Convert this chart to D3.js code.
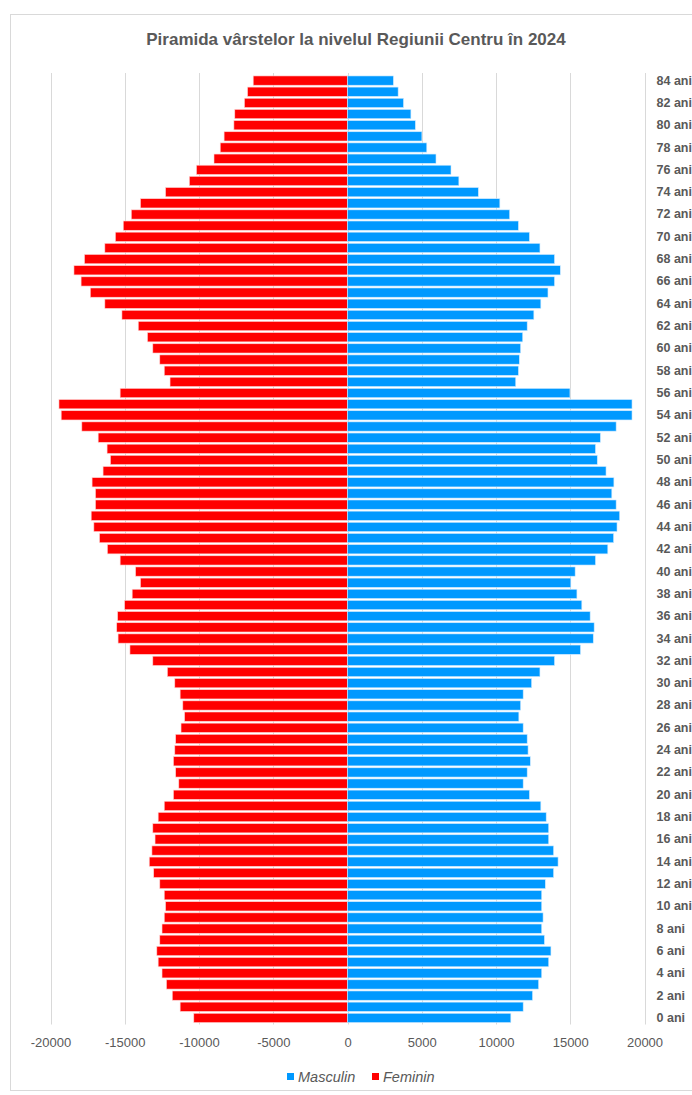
<!DOCTYPE html>
<html><head><meta charset="utf-8">
<script src="https://cdn.jsdelivr.net/npm/d3@7"></script>
<style>body{margin:0;background:#fff}svg{display:block}</style>
</head><body>
<script>
const title = "Piramida vârstelor la nivelul Regiunii Centru în 2024";
const ages = d3.range(0, 85).map(a => a + " ani");
const masculin = [11000,11830,12460,12870,13080,13550,13700,13260,13080,13170,
13080,13080,13320,13880,14180,13880,13550,13550,13380,13020,
12250,11830,12100,12310,12160,12100,11830,11540,11660,11830,
12400,12960,13940,15690,16550,16610,16340,15780,15450,15040,
15330,16700,17530,17920,18150,18330,18090,17800,17940,17410,
16820,16700,17030,18090,19160,19160,14980,11330,11510,11570,
11660,11800,12100,12550,13020,13500,13940,14330,13940,12960,
12250,11510,10920,10260,8810,7500,6970,5960,5340,5010,
4570,4270,3770,3410,3090];
const feminin = [10350,11270,11800,12190,12490,12750,12840,12640,12490,12340,
12250,12340,12640,13050,13350,13170,12960,13110,12750,12340,
11720,11360,11570,11720,11630,11570,11210,10970,11090,11270,
11630,12130,13110,14650,15450,15540,15480,15010,14500,13940,
14270,15310,16170,16700,17080,17260,16970,16970,17200,16460,
15960,16190,16790,17890,19280,19430,15310,11950,12340,12640,
13110,13470,14090,15190,16340,17320,17940,18420,17710,16340,
15630,15100,14560,13940,12250,10650,10170,8990,8570,8310,
7650,7590,6940,6730,6350];
const xTicks = [-20000,-15000,-10000,-5000,0,5000,10000,15000,20000];
const seriesNames = ["Masculin","Feminin"];
const colors = {Masculin:"#0099ff", Feminin:"#ff0000"};

const W = 692, H = 1095;
const svg = d3.select("body").append("svg").attr("width", W).attr("height", H);
svg.append("rect").attr("x",0).attr("y",0).attr("width",W).attr("height",H).attr("fill","#fff");
svg.append("rect").attr("x",10.5).attr("y",14.5).attr("width",700).attr("height",1076)
  .attr("fill","none").attr("stroke","#d9d9d9");

const x = d3.scaleLinear().domain([-20000,20000]).range([50.5,644.5]);
const plotTop = 75, plotBottom = 1023.5;
const y = d3.scaleBand().domain(d3.range(84,-1,-1)).range([plotTop,plotBottom]).paddingInner(0.17).paddingOuter(0.085);

// gridlines
svg.append("g").selectAll("line").data(xTicks).join("line")
  .attr("x1", d => Math.round(x(d))+0.5).attr("x2", d => Math.round(x(d))+0.5)
  .attr("y1", plotTop-2).attr("y2", plotBottom+1)
  .attr("stroke","#d9d9d9").attr("stroke-width",1);

const g = svg.append("g");
g.selectAll("rect.f").data(d3.range(85)).join("rect").attr("class","f")
  .attr("x", i => x(-feminin[i])).attr("width", i => x(0) - x(-feminin[i]))
  .attr("y", i => y(i)).attr("height", y.bandwidth())
  .attr("fill", colors.Feminin).attr("stroke","#ffd0d0").attr("stroke-width",0.6);
g.selectAll("rect.m").data(d3.range(85)).join("rect").attr("class","m")
  .attr("x", x(0)).attr("width", i => x(masculin[i]) - x(0))
  .attr("y", i => y(i)).attr("height", y.bandwidth())
  .attr("fill", colors.Masculin).attr("stroke","#cfeaff").attr("stroke-width",0.6);

// x axis
const xa = svg.append("g").attr("transform",`translate(0,${plotBottom})`)
  .call(d3.axisBottom(x).tickValues(xTicks).tickFormat(d => String(d)).tickSize(0).tickPadding(14));
xa.select(".domain").remove();
xa.selectAll("text").attr("font-family","'Liberation Sans Narrow','Liberation Sans',Arial,sans-serif")
  .attr("font-size",13).attr("fill","#595959");

// y labels right
const ya = svg.append("g").attr("transform",`translate(644.5,0)`)
  .call(d3.axisRight(y).tickValues(d3.range(84,-1,-2)).tickFormat(d => ages[d]).tickSize(0).tickPadding(12));
ya.select(".domain").remove();
ya.selectAll("text").attr("font-family","'Liberation Sans Narrow','Liberation Sans',Arial,sans-serif")
  .attr("font-size",12.5).attr("font-weight","bold").attr("fill","#595959");

// title
svg.append("text").attr("x",356).attr("y",45).attr("text-anchor","middle")
  .attr("font-family","'Liberation Sans',Arial,sans-serif").attr("font-size",17).attr("font-weight","bold")
  .attr("fill","#595959").text(title);

// legend
const leg = svg.append("g").attr("font-family","'Liberation Sans Narrow','Liberation Sans',Arial,sans-serif")
  .attr("font-size",14.5).attr("font-style","italic").attr("fill","#595959");
const legPos = [{n:"Masculin", x:287},{n:"Feminin", x:372}];
legPos.forEach(p => {
  leg.append("rect").attr("x",p.x).attr("y",1073).attr("width",7).attr("height",7).attr("fill",colors[p.n]);
  leg.append("text").attr("x",p.x+11).attr("y",1082).text(p.n);
});
</script>
</body></html>
